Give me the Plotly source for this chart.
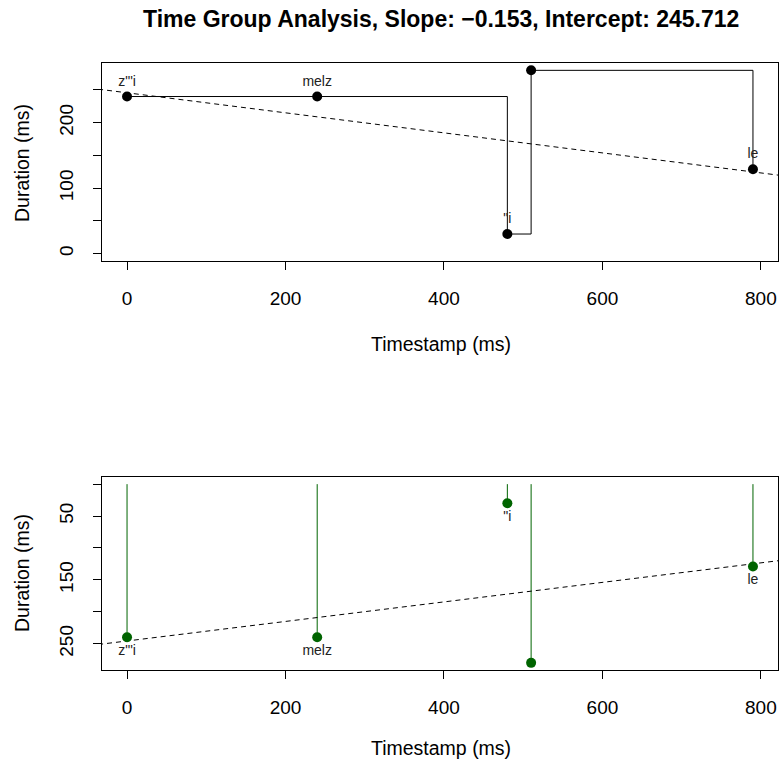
import plotly.graph_objects as go

# Data
timestamps = [0, 240, 480, 510, 790]
durations = [240, 240, 30, 280, 129]
labels = ['z"\'i', 'melz', '"i', '', 'le']
slope = -0.153
intercept = 245.712
title_text = "Time Group Analysis, Slope: \u22120.153, Intercept: 245.712"
x_ticks = [0, 200, 400, 600, 800]
y_ticks = [0, 50, 100, 150, 200, 250]
top_ytext = ['0', '', '100', '', '200', '']
bot_ytext = ['', '50', '', '150', '', '250']

W, H = 782, 764
FONT = "Liberation Sans, Arial, sans-serif"
green = "#006400"

xr = [-31.6, 821.6]
yr = [-11.2, 291.2]
line_x = [xr[0] - 50, xr[1] + 50]
line_y = [intercept + slope * v for v in line_x]

fig = go.Figure()

# Top panel
fig.add_trace(go.Scatter(x=timestamps, y=durations, mode="lines",
                         line=dict(color="black", width=1, shape="hv"),
                         xaxis="x", yaxis="y", showlegend=False, hoverinfo="skip"))
fig.add_trace(go.Scatter(x=line_x, y=line_y, mode="lines",
                         line=dict(color="black", width=1, dash="5px,4px"),
                         xaxis="x", yaxis="y", showlegend=False, hoverinfo="skip"))
fig.add_trace(go.Scatter(x=timestamps, y=durations, mode="markers+text",
                         marker=dict(color="black", size=10),
                         text=labels, textposition="top center",
                         textfont=dict(family=FONT, size=14, color="#222"),
                         xaxis="x", yaxis="y", showlegend=False))

# Bottom panel: vertical lines from 0 to value
seg_x, seg_y = [], []
for t, d in zip(timestamps, durations):
    seg_x += [t, t, None]
    seg_y += [0, d, None]
fig.add_trace(go.Scatter(x=seg_x, y=seg_y, mode="lines",
                         line=dict(color=green, width=1),
                         xaxis="x2", yaxis="y2", showlegend=False, hoverinfo="skip"))
fig.add_trace(go.Scatter(x=line_x, y=line_y, mode="lines",
                         line=dict(color="black", width=1, dash="5px,4px"),
                         xaxis="x2", yaxis="y2", showlegend=False, hoverinfo="skip"))
fig.add_trace(go.Scatter(x=timestamps, y=durations, mode="markers+text",
                         marker=dict(color=green, size=10),
                         text=labels, textposition="bottom center",
                         textfont=dict(family=FONT, size=14, color="#222"),
                         xaxis="x2", yaxis="y2", showlegend=False))

def px_x(p):
    return p / W

def px_y(p):
    return 1 - p / H

axis_common = dict(showline=True, linecolor="black", linewidth=1, mirror=True,
                   ticks="outside", ticklen=8, tickcolor="black", showgrid=False,
                   zeroline=False, tickfont=dict(family=FONT, size=19, color="black"))

fig.update_layout(
    width=W, height=H, margin=dict(l=0, r=0, t=0, b=0),
    paper_bgcolor="white", plot_bgcolor="white",
    font=dict(family=FONT, color="black"),
    xaxis=dict(domain=[px_x(102), px_x(778)], range=xr, anchor="y",
               tickvals=x_ticks, ticklabelstandoff=12, **axis_common),
    yaxis=dict(domain=[px_y(261), px_y(63)], range=yr, anchor="x",
               tickvals=y_ticks, ticktext=top_ytext, tickangle=-90,
               ticklabelstandoff=12, **axis_common),
    xaxis2=dict(domain=[px_x(102), px_x(778)], range=xr, anchor="y2",
                tickvals=x_ticks, ticklabelstandoff=12, **axis_common),
    yaxis2=dict(domain=[px_y(670), px_y(477)], range=[yr[1], yr[0]], anchor="x2",
                tickvals=y_ticks, ticktext=bot_ytext, tickangle=-90,
                ticklabelstandoff=12, **axis_common),
    annotations=[
        dict(text="<b>" + title_text + "</b>", x=px_x(441), y=px_y(19), xref="paper", yref="paper",
             showarrow=False, xanchor="center", yanchor="middle",
             font=dict(family=FONT, size=23, color="black")),
        dict(text="Timestamp (ms)", x=px_x(441), y=px_y(344), xref="paper", yref="paper",
             showarrow=False, xanchor="center", yanchor="middle",
             font=dict(family=FONT, size=19.5, color="black")),
        dict(text="Timestamp (ms)", x=px_x(441), y=px_y(748), xref="paper", yref="paper",
             showarrow=False, xanchor="center", yanchor="middle",
             font=dict(family=FONT, size=19.5, color="black")),
        dict(text="Duration (ms)", x=px_x(22), y=px_y(163), xref="paper", yref="paper",
             showarrow=False, xanchor="center", yanchor="middle", textangle=-90,
             font=dict(family=FONT, size=19.5, color="black")),
        dict(text="Duration (ms)", x=px_x(22), y=px_y(573), xref="paper", yref="paper",
             showarrow=False, xanchor="center", yanchor="middle", textangle=-90,
             font=dict(family=FONT, size=19.5, color="black")),
    ],
)

fig.write_html(
    "out.html",
    config={"displayModeBar": False},
    post_script=(
        "document.body.style.margin='0';"
        "document.body.style.overflow='hidden';"
        "document.documentElement.style.overflow='hidden';"
    ),
)
